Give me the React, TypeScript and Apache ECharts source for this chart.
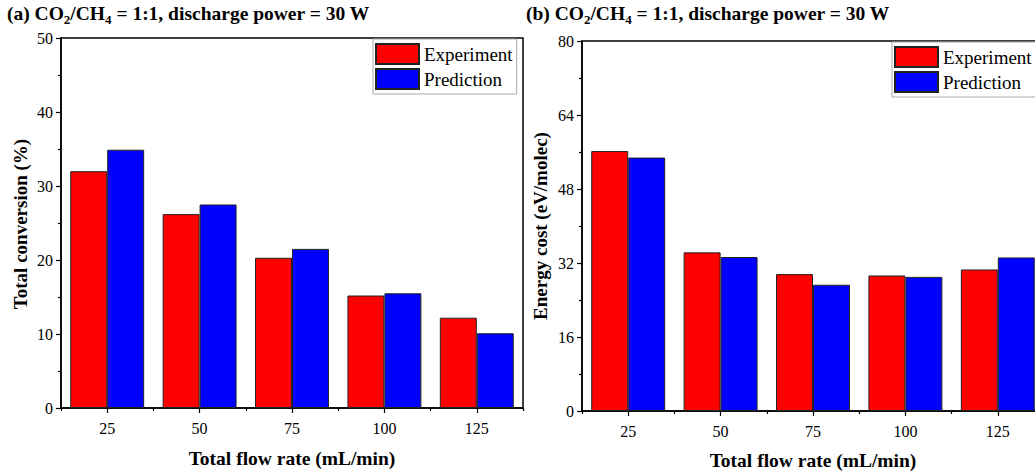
import React, { useEffect, useRef } from "react";
import * as echarts from "echarts";

const categories = ["25", "50", "75", "100", "125"];
const conversionExperiment = [32.0, 26.2, 20.3, 15.2, 12.2];
const conversionPrediction = [34.9, 27.5, 21.5, 15.5, 10.1];
const energyExperiment = [56.2, 34.3, 29.6, 29.3, 30.6];
const energyPrediction = [54.8, 33.3, 27.3, 29.0, 33.2];
const seriesNames = ["Experiment", "Prediction"];
const titleA = ["(a) CO", "2", "/CH", "4", " = 1:1, discharge power = 30 W"];
const titleB = ["(b) CO", "2", "/CH", "4", " = 1:1, discharge power = 30 W"];
const yNameA = "Total conversion (%)";
const yNameB = "Energy cost (eV/molec)";
const xName = "Total flow rate (mL/min)";

const FONT = "'Times New Roman', 'Liberation Serif', serif";
const RED = "#ff0000";
const BLUE = "#0000ff";

function richTitle(parts: string[]) {
  return parts.map((p, i) => (i % 2 === 1 ? `{s|${p}}` : `{m|${p}}`)).join("");
}

export default function App() {
  const ref = useRef<HTMLDivElement>(null);
  useEffect(() => {
    if (!ref.current) return;
    const chart = echarts.init(ref.current, null, { renderer: "svg" });
    const grids = [
      { left: 61, top: 38, width: 462, height: 370 },
      { left: 582, top: 41, width: 462, height: 370 },
    ];
    const mainX = (gi: number) => ({
      type: "category",
      gridIndex: gi,
      data: categories,
      position: "bottom",
      axisLine: { show: true, lineStyle: { color: "#000", width: 1.5 } },
      axisTick: { show: true, alignWithLabel: true, length: 5, lineStyle: { color: "#000", width: 1.2 } },
      axisLabel: { fontFamily: FONT, fontSize: 16, color: "#000", margin: 12 },
    });
    const minorX = (gi: number) => ({
      type: "category",
      gridIndex: gi,
      data: categories,
      position: "bottom",
      axisLine: { show: false },
      axisTick: { show: true, alignWithLabel: false, length: 3, lineStyle: { color: "#000", width: 1.2 } },
      axisLabel: { show: false },
    });
    const yAx = (gi: number, max: number, interval: number) => ({
      type: "value",
      gridIndex: gi,
      min: 0,
      max,
      interval,
      axisLine: { show: true, lineStyle: { color: "#000", width: 1.5 } },
      axisTick: { show: true, length: 5, lineStyle: { color: "#000", width: 1.2 } },
      minorTick: { show: true, splitNumber: 2, length: 3, lineStyle: { color: "#000", width: 1.2 } },
      splitLine: { show: false },
      axisLabel: { fontFamily: FONT, fontSize: 16, color: "#000", margin: 8 },
    });
    const bar = (name: string, data: number[], color: string, xi: number, yi: number) => ({
      type: "bar",
      name,
      data,
      xAxisIndex: xi,
      yAxisIndex: yi,
      barWidth: "40%",
      barGap: "0%",
      itemStyle: { color, borderColor: "#222", borderWidth: 1 },
    });
    const legend = (left: number, top: number, padRight: number) => ({
      data: seriesNames,
      orient: "vertical",
      left,
      top,
      icon: "rect",
      itemWidth: 43,
      itemHeight: 20,
      itemGap: 3,
      padding: [4, padRight, 4, 2],
      borderColor: "#aaa",
      borderWidth: 1,
      selectedMode: false,
      textStyle: { fontFamily: FONT, fontSize: 19, color: "#000" },
    });
    const titleRich = {
      m: { fontFamily: FONT, fontSize: 19.5, fontWeight: "bold", color: "#000", lineHeight: 26 },
      s: { fontFamily: FONT, fontSize: 13, fontWeight: "bold", color: "#000", lineHeight: 13, verticalAlign: "bottom" },
    };
    const boldText = { fontFamily: FONT, fontSize: 19, fontWeight: "bold", fill: "#000" };
    chart.setOption({
      animation: false,
      backgroundColor: "#fff",
      grid: grids.map((g) => ({
        ...g,
        show: true,
        borderColor: "#000",
        borderWidth: 1.5,
        backgroundColor: "transparent",
        outerBoundsMode: "none",
        containLabel: false,
      })),
      xAxis: [mainX(0), minorX(0), mainX(1), minorX(1)],
      yAxis: [yAx(0, 50, 10), yAx(1, 80, 16)],
      legend: [legend(373, 39, 4), legend(892, 42, 12)],
      series: [
        bar(seriesNames[0], conversionExperiment, RED, 0, 0),
        bar(seriesNames[1], conversionPrediction, BLUE, 0, 0),
        bar(seriesNames[0], energyExperiment, RED, 2, 1),
        bar(seriesNames[1], energyPrediction, BLUE, 2, 1),
      ],
      graphic: [
        { type: "text", left: 7, top: 3, style: { text: richTitle(titleA), rich: titleRich } },
        { type: "text", left: 526, top: 3, style: { text: richTitle(titleB), rich: titleRich } },
        { type: "text", x: 20, y: 224, rotation: Math.PI / 2, style: { ...boldText, text: yNameA, align: "center", verticalAlign: "middle" } },
        { type: "text", x: 540, y: 226, rotation: Math.PI / 2, style: { ...boldText, text: yNameB, align: "center", verticalAlign: "middle" } },
        { type: "text", x: 292, y: 458, style: { ...boldText, fontSize: 19.5, text: xName, align: "center", verticalAlign: "middle" } },
        { type: "text", x: 813, y: 460, style: { ...boldText, fontSize: 19.5, text: xName, align: "center", verticalAlign: "middle" } },
      ],
    });
    return () => chart.dispose();
  }, []);
  return <div ref={ref} style={{ position: "absolute", left: 0, top: 0, width: 1035, height: 471 }} />;
}
